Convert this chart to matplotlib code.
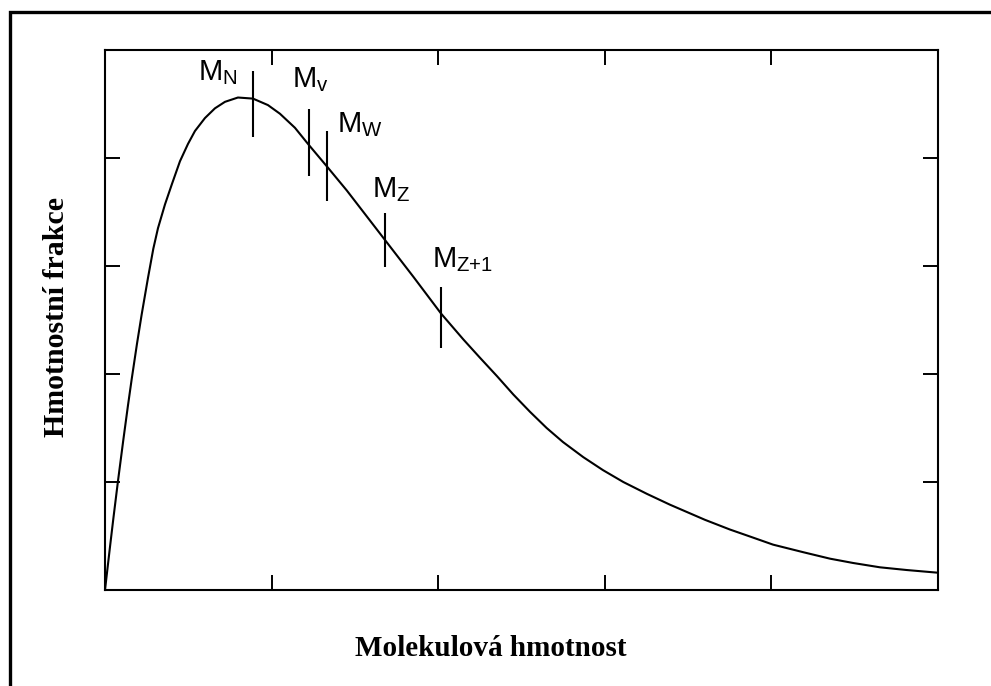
import matplotlib
matplotlib.use("Agg")
import matplotlib.pyplot as plt
from matplotlib.patches import Rectangle

# Curve (axis units 0..5 on both axes)
curve_x = [0.0, 0.030, 0.050, 0.078, 0.110, 0.138, 0.160, 0.192, 0.220, 0.258,
           0.290, 0.318, 0.360, 0.402, 0.450, 0.498, 0.540, 0.600, 0.660, 0.720,
           0.798, 0.888, 0.978, 1.050, 1.140, 1.224, 1.333, 1.451, 1.571, 1.681,
           1.851, 2.017, 2.151, 2.251, 2.353, 2.451, 2.551, 2.651, 2.749, 2.871,
           2.989, 3.111, 3.253, 3.391, 3.511, 3.601, 3.751, 3.881, 4.010, 4.191,
           4.352, 4.491, 4.652, 4.812, 5.0]
curve_y = [0.0, 0.40, 0.66, 1.01, 1.39, 1.71, 1.95, 2.28, 2.55, 2.89,
           3.16, 3.35, 3.57, 3.76, 3.97, 4.13, 4.25, 4.37, 4.46, 4.52,
           4.56, 4.55, 4.49, 4.41, 4.28, 4.12, 3.92, 3.70, 3.46, 3.24,
           2.90, 2.56, 2.32, 2.15, 1.98, 1.81, 1.65, 1.50, 1.37, 1.23,
           1.11, 1.00, 0.89, 0.79, 0.71, 0.65, 0.56, 0.49, 0.42, 0.35,
           0.29, 0.25, 0.21, 0.185, 0.16]

# Average markers
marker_names = [r"$\mathrm{M}_{\mathrm{N}}$", r"$\mathrm{M}_{\mathrm{v}}$",
                r"$\mathrm{M}_{\mathrm{W}}$", r"$\mathrm{M}_{\mathrm{Z}}$",
                r"$\mathrm{M}_{\mathrm{Z{+}1}}$"]
marker_x = [0.888, 1.224, 1.333, 1.681, 2.017]
marker_ylo = [4.19, 3.83, 3.60, 2.99, 2.24]
marker_yhi = [4.81, 4.45, 4.25, 3.49, 2.81]
label_x = [0.558, 1.122, 1.393, 1.603, 1.963]
label_y = [4.72, 4.66, 4.24, 3.64, 2.99]

tick_pos = [0, 1, 2, 3, 4, 5]

plt.rcParams['mathtext.fontset'] = 'custom'
plt.rcParams['mathtext.rm'] = 'Liberation Sans'

fig = plt.figure(figsize=(9.91, 6.86), dpi=100)
ax = fig.add_axes([105/991, 96/686, 833/991, 540/686])

ax.plot(curve_x, curve_y, color='black', lw=1.5, solid_joinstyle='round')
ax.vlines(marker_x, marker_ylo, marker_yhi, color='black', lw=1.5)
for name, lx, ly in zip(marker_names, label_x, label_y):
    ax.text(lx, ly, name, fontsize=21, ha='left', va='baseline', color='black')

ax.set_xlim(0, 5)
ax.set_ylim(0, 5)
ax.set_xticks(tick_pos)
ax.set_yticks(tick_pos)
ax.tick_params(direction='in', length=11, width=1.4, top=True, right=True,
               labelbottom=False, labelleft=False)
for s in ax.spines.values():
    s.set_linewidth(1.5)

fig.text(491/991, 1 - 656/686, "Molekulová hmotnost", ha='center', va='baseline',
         fontsize=21, fontweight='bold', family='Liberation Serif')
fig.text(57/991, 1 - 317/686, "Hmotnostní frakce", ha='center', va='center',
         rotation=90, fontsize=21.5, fontweight='bold', family='Liberation Serif')

# Outer frame (extends beyond right and bottom edges)
fig.patches.append(Rectangle((9.5/991, -0.05), 1.1, 1 - 12.5/686 + 0.05,
                             transform=fig.transFigure, fill=False,
                             edgecolor='black', lw=2.4, clip_on=False))

fig.savefig("out.png", dpi=100)
